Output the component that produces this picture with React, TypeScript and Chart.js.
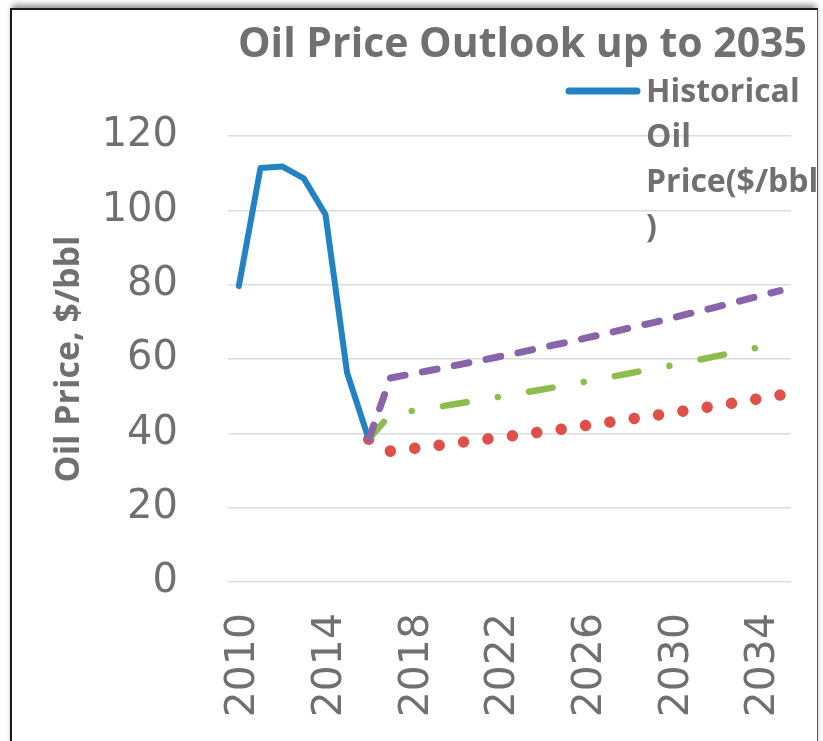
import React, { useEffect, useRef } from 'react';
import { Chart, registerables } from 'chart.js';

Chart.register(...registerables);

const W = 823;
const H = 741;

const chartTitle = 'Oil Price Outlook up to 2035';
const yAxisTitle = 'Oil Price, $/bbl';

const years = [
  '2010', '2011', '2012', '2013', '2014', '2015', '2016', '2017', '2018', '2019',
  '2020', '2021', '2022', '2023', '2024', '2025', '2026', '2027', '2028', '2029',
  '2030', '2031', '2032', '2033', '2034', '2035',
];

const xTickLabels = ['2010', '2014', '2018', '2022', '2026', '2030', '2034'];

const historical = [
  79.6, 111.4, 111.8, 108.6, 98.9, 56.3, 38.4,
  null, null, null, null, null, null, null, null, null, null, null, null, null,
  null, null, null, null, null, null,
];

const highCase = [
  null, null, null, null, null, null,
  38.4, 54.9, 56.0, 57.1, 58.3, 59.4, 60.6, 61.8, 63.1, 64.3,
  65.6, 66.9, 68.3, 69.6, 71.0, 72.5, 73.9, 75.4, 76.9, 78.4,
];

const midCase = [
  null, null, null, null, null, null,
  38.4, 45.1, 46.0, 46.9, 47.9, 48.8, 49.8, 50.8, 51.8, 52.8,
  53.9, 55.0, 56.1, 57.2, 58.3, 59.5, 60.7, 61.9, 63.1, null,
];

const lowCase = [
  null, null, null, null, null, null,
  38.4, 35.2, 35.9, 36.6, 37.4, 38.1, 38.9, 39.6, 40.4, 41.2,
  42.1, 42.9, 43.8, 44.6, 45.5, 46.4, 47.4, 48.3, 49.3, 50.3,
];

const yTicks = { min: 0, max: 120, step: 20 };

const TEXT = '#707070';
const BLUE = '#2382c3';
const PURPLE = '#8a64a9';
const GREEN = '#8dbd4d';
const RED = '#e0504b';
const GRID = '#dcdcdc';

function wrapText(ctx: CanvasRenderingContext2D, text: string, maxWidth: number): string[] {
  const words = text.split(' ');
  const lines: string[] = [];
  let cur = '';
  for (const w of words) {
    const test = cur ? cur + ' ' + w : w;
    if (ctx.measureText(test).width <= maxWidth) {
      cur = test;
      continue;
    }
    if (cur) lines.push(cur);
    if (ctx.measureText(w).width <= maxWidth) {
      cur = w;
    } else {
      let piece = '';
      for (const ch of w) {
        if (ctx.measureText(piece + ch).width <= maxWidth) piece += ch;
        else {
          lines.push(piece);
          piece = ch;
        }
      }
      cur = piece;
    }
  }
  if (cur) lines.push(cur);
  return lines;
}

const overlayPlugin = {
  id: 'overlayText',
  afterDraw(chart: any) {
    const ctx: CanvasRenderingContext2D = chart.ctx;
    ctx.save();
    // Title
    ctx.fillStyle = TEXT;
    ctx.font = 'bold 41px "Open Sans"';
    ctx.textAlign = 'right';
    ctx.textBaseline = 'alphabetic';
    ctx.fillText(chartTitle, 807, 57);

    // Legend (historical series only)
    const ds = chart.data.datasets.find((d: any) => d.showInLegend);
    if (ds) {
      ctx.strokeStyle = ds.borderColor;
      ctx.lineWidth = 7;
      ctx.lineCap = 'round';
      ctx.beginPath();
      ctx.moveTo(569, 91);
      ctx.lineTo(637, 91);
      ctx.stroke();
      ctx.font = 'bold 32px "Open Sans"';
      ctx.textAlign = 'left';
      const lines = wrapText(ctx, ds.label, 178);
      lines.forEach((l, i) => ctx.fillText(l, 646, 102 + i * 45));
    }
    ctx.restore();
  },
};

export default function App() {
  const ref = useRef<HTMLCanvasElement | null>(null);

  useEffect(() => {
    if (!ref.current) return;
    const chart = new Chart(ref.current, {
      type: 'line',
      data: {
        labels: years,
        datasets: [
          {
            label: 'High case',
            data: highCase,
            borderColor: PURPLE,
            borderWidth: 7,
            borderDash: [15, 17.5],
            borderCapStyle: 'round',
            borderJoinStyle: 'round',
            pointRadius: 0,
            pointHoverRadius: 0,
            tension: 0,
          },
          {
            label: 'Mid case',
            data: midCase,
            borderColor: GREEN,
            borderWidth: 6.5,
            borderDash: [24, 31.6, 0.01, 31.6],
            borderDashOffset: 1,
            borderCapStyle: 'round',
            borderJoinStyle: 'round',
            pointRadius: 0,
            pointHoverRadius: 0,
            tension: 0,
          },
          {
            label: 'Historical Oil Price($/bbl)',
            data: historical,
            borderColor: BLUE,
            borderWidth: 6,
            borderCapStyle: 'round',
            borderJoinStyle: 'round',
            pointRadius: 0,
            pointHoverRadius: 0,
            tension: 0,
            showInLegend: true,
          } as any,
          {
            label: 'Low case',
            data: lowCase,
            borderColor: RED,
            borderWidth: 11.5,
            borderDash: [0.01, 24.6],
            borderCapStyle: 'round',
            borderJoinStyle: 'round',
            pointRadius: 0,
            pointHoverRadius: 0,
            tension: 0,
          },
        ],
      },
      options: {
        animation: false,
        responsive: false,
        maintainAspectRatio: false,
        layout: { padding: { top: 136, right: 32, bottom: 0, left: 0 } },
        plugins: {
          legend: { display: false },
          title: { display: false },
          tooltip: { enabled: false },
        },
        scales: {
          x: {
            type: 'category',
            offset: true,
            grid: { display: false, drawTicks: false },
            border: { display: false },
            ticks: {
              autoSkip: false,
              maxRotation: 90,
              minRotation: 90,
              padding: 31,
              labelOffset: 5,
              color: TEXT,
              font: { family: '"DejaVu Sans"', size: 41 },
              callback: (_v: any, i: number) => (xTickLabels.includes(years[i]) ? years[i] : ''),
            },
            afterFit: (s: any) => {
              s.height = H - 582;
              s.paddingLeft = 0;
              s.paddingRight = 0;
            },
          },
          y: {
            min: yTicks.min,
            max: yTicks.max,
            grid: { color: GRID, lineWidth: 1.5, drawTicks: false },
            border: { display: false },
            ticks: {
              stepSize: yTicks.step,
              padding: 50,
              color: TEXT,
              font: { family: '"DejaVu Sans"', size: 40 },
            },
            title: {
              display: true,
              text: yAxisTitle,
              color: TEXT,
              font: { family: '"Open Sans"', size: 34, weight: 'bold' },
              padding: { top: 49, bottom: 0 },
            },
            afterFit: (s: any) => {
              s.width = 228;
              s.paddingTop = 0;
              s.paddingBottom = 0;
            },
          },
        },
      },
      plugins: [overlayPlugin],
    } as any);
    return () => chart.destroy();
  }, []);

  return (
    <div
      style={{
        position: 'fixed',
        left: 0,
        top: 0,
        width: W,
        height: H,
        overflow: 'hidden',
        background: '#ffffff',
      }}
    >
      <div
        style={{
          position: 'absolute',
          left: 10,
          top: 8,
          width: 808,
          height: 800,
          boxSizing: 'border-box',
          borderLeft: '2px solid #1a1a1a',
          borderTop: '2px solid #1a1a1a',
          borderRight: '1.5px solid #555',
          boxShadow: '0 -5px 6px -2px rgba(0,0,0,0.45)',
          background: '#ffffff',
        }}
      />
      <canvas
        ref={ref}
        width={W}
        height={H}
        style={{ position: 'absolute', left: 0, top: 0, width: W, height: H }}
      />
    </div>
  );
}
